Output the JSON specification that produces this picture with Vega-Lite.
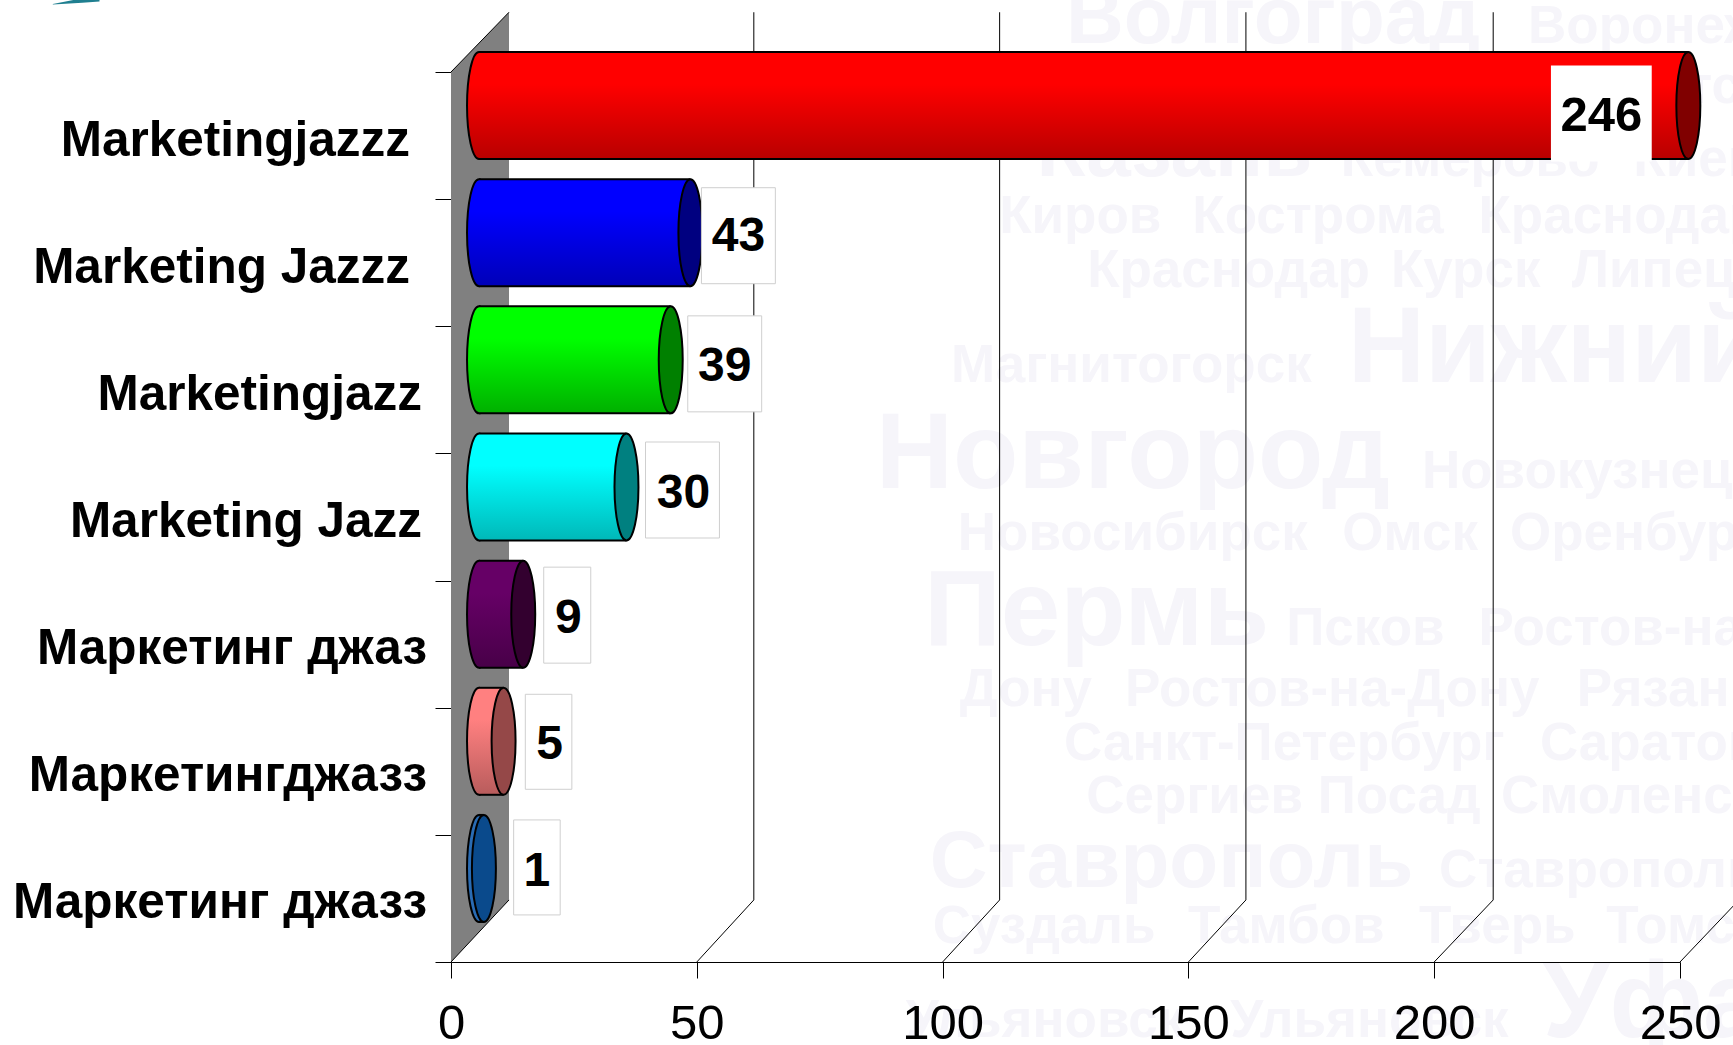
{"$schema":"https://vega.github.io/schema/vega-lite/v6.json","autosize":{"type":"none"},"width":1229,"height":890,"padding":{"left":451,"top":72,"right":53,"bottom":83},"background":"white","config":{"view":{"stroke":null},"font":"Liberation Sans"},
"datasets":{
"bars":[{"name":"Marketingjazzz","value":246},{"name":"Marketing Jazzz","value":43},{"name":"Marketingjazz","value":39},{"name":"Marketing Jazz","value":30},{"name":"Маркетинг джаз","value":9},{"name":"Маркетингджазз","value":5},{"name":"Маркетинг джазз","value":1}],
"grid":[
{"tick":"0","seq":1,"x":0,"h":0},{"tick":"0","seq":2,"x":11.8,"h":0.488},
{"tick":"top","seq":1,"x":0,"h":7},{"tick":"top","seq":2,"x":11.8,"h":7.47},
{"tick":"50","seq":1,"x":50,"h":0},{"tick":"50","seq":2,"x":61.6,"h":0.488},{"tick":"50","seq":3,"x":61.6,"h":7.47},
{"tick":"100","seq":1,"x":100,"h":0},{"tick":"100","seq":2,"x":111.6,"h":0.488},{"tick":"100","seq":3,"x":111.6,"h":7.47},
{"tick":"150","seq":1,"x":150,"h":0},{"tick":"150","seq":2,"x":161.7,"h":0.488},{"tick":"150","seq":3,"x":161.7,"h":7.47},
{"tick":"200","seq":1,"x":200,"h":0},{"tick":"200","seq":2,"x":212,"h":0.488},{"tick":"200","seq":3,"x":212,"h":7.47},
{"tick":"250","seq":1,"x":250,"h":0},{"tick":"250","seq":2,"x":262,"h":0.488},{"tick":"250","seq":3,"x":262,"h":7.47}],
"wall":[{"x":0,"h0":0,"h1":7},{"x":11.8,"h0":0.488,"h1":7.47}],
"logo":[{"x":-81,"h0":7.53,"h1":7.535},{"x":-75,"h0":7.545,"h1":7.58},{"x":-71.5,"h0":7.555,"h1":7.6}],
"cities":[
{"city":"Волгоград","x":125.1,"h":7.228,"tier":"big"},{"city":"Воронеж","x":219.1,"h":7.228,"tier":"mid"},{"city":"Иркутск","x":225.4,"h":6.76,"tier":"mid"},
{"city":"Казань","x":119.1,"h":6.18,"tier":"big"},{"city":"Кемерово","x":181,"h":6.18,"tier":"mid"},{"city":"Киев","x":240.5,"h":6.18,"tier":"mid"},
{"city":"Киров","x":111.5,"h":5.734,"tier":"mid"},{"city":"Кострома","x":150.8,"h":5.734,"tier":"mid"},{"city":"Краснодар","x":209,"h":5.734,"tier":"mid"},
{"city":"Краснодар","x":129.4,"h":5.31,"tier":"mid"},{"city":"Курск","x":191.2,"h":5.31,"tier":"mid"},{"city":"Липецк","x":228,"h":5.31,"tier":"mid"},
{"city":"Магнитогорск","x":101.7,"h":4.56,"tier":"mid"},{"city":"Нижний","x":182.4,"h":4.56,"tier":"huge"},
{"city":"Новгород","x":86.4,"h":3.73,"tier":"huge"},{"city":"Новокузнецк","x":197.5,"h":3.73,"tier":"mid"},
{"city":"Новосибирск","x":103.1,"h":3.24,"tier":"mid"},{"city":"Омск","x":181.3,"h":3.24,"tier":"mid"},{"city":"Оренбург","x":215.4,"h":3.24,"tier":"mid"},
{"city":"Пермь","x":96.2,"h":2.49,"tier":"huge"},{"city":"Псков","x":169.9,"h":2.49,"tier":"mid"},{"city":"Ростов-на-","x":209,"h":2.49,"tier":"mid"},
{"city":"Дону","x":103.5,"h":2.01,"tier":"mid"},{"city":"Ростов-на-Дону","x":137.1,"h":2.01,"tier":"mid"},{"city":"Рязань","x":229,"h":2.01,"tier":"mid"},
{"city":"Санкт-Петербург","x":124.7,"h":1.59,"tier":"mid"},{"city":"Саратов","x":221.5,"h":1.59,"tier":"mid"},
{"city":"Сергиев Посад","x":129.2,"h":1.17,"tier":"mid"},{"city":"Смоленск","x":213.6,"h":1.17,"tier":"mid"},
{"city":"Ставрополь","x":97.4,"h":0.59,"tier":"big"},{"city":"Ставрополь","x":201,"h":0.59,"tier":"mid"},
{"city":"Суздаль","x":98,"h":0.15,"tier":"mid"},{"city":"Тамбов","x":149.9,"h":0.15,"tier":"mid"},{"city":"Тверь","x":196.9,"h":0.15,"tier":"mid"},{"city":"Томск","x":235,"h":0.15,"tier":"mid"},
{"city":"Ульяновск","x":92.5,"h":-0.59,"tier":"mid"},{"city":"Ульяновск","x":158.5,"h":-0.59,"tier":"mid"},{"city":"Уфа","x":222.1,"h":-0.59,"tier":"huge"}]
},
"layer":[
{"encoding":{"x":{"field":"x","type":"quantitative","title":null,"scale":{"domain":[0,250],"nice":false,"zero":true},"axis":{"values":[0,50,100,150,200,250],"zindex":1,"grid":false,"tickSize":16,"tickColor":"black","domainColor":"black","labelColor":"black","labelFontSize":49,"labelFont":"Liberation Sans","labelPadding":21,"labelFlush":false,"labelOverlap":false,"title":null}},"y":{"field":"h","type":"quantitative","title":null,"scale":{"domain":[0,7],"nice":false,"zero":false},"axis":null}},
"layer":[
{"data":{"name":"cities"},"transform":[{"filter":"datum.tier==='huge'"}],"mark":{"type":"text","align":"left","baseline":"alphabetic","font":"Liberation Sans","fontWeight":"bold","fontSize":107,"fill":"#f6f5fa"},"encoding":{"text":{"field":"city"}}},
{"data":{"name":"cities"},"transform":[{"filter":"datum.tier==='big'"}],"mark":{"type":"text","align":"left","baseline":"alphabetic","font":"Liberation Sans","fontWeight":"bold","fontSize":80,"fill":"#f6f5fa"},"encoding":{"text":{"field":"city"}}},
{"data":{"name":"cities"},"transform":[{"filter":"datum.tier==='mid'"}],"mark":{"type":"text","align":"left","baseline":"alphabetic","font":"Liberation Sans","fontWeight":"bold","fontSize":53,"fill":"#f6f5fa"},"encoding":{"text":{"field":"city"}}},
{"data":{"name":"wall"},"mark":{"type":"area","fill":"#808080"},"encoding":{"y":{"field":"h0","type":"quantitative"},"y2":{"field":"h1"}}},
{"data":{"name":"logo"},"mark":{"type":"area","fill":"#1f7f90"},"encoding":{"y":{"field":"h0","type":"quantitative"},"y2":{"field":"h1"}}},
{"data":{"name":"grid"},"mark":{"type":"line","stroke":"black","strokeWidth":1},"encoding":{"detail":{"field":"tick"},"order":{"field":"seq"}}}
]},
{"data":{"name":"bars"},"encoding":{"y":{"field":"name","type":"nominal","title":null,"sort":null,"scale":{"domain":["Marketingjazzz","Marketing Jazzz","Marketingjazz","Marketing Jazz","Маркетинг джаз","Маркетингджазз","Маркетинг джазз"],"paddingInner":0,"paddingOuter":0},"axis":{"title":null,"tickBand":"extent","tickSize":16,"tickColor":"black","domainColor":"black","labels":false,"grid":false}},"x":{"field":"value","type":"quantitative","title":null,"stack":null}},
"layer":[
{"transform":[{"filter":"datum.name==='Marketingjazzz'||datum.name==='Marketing Jazzz'"}],"mark":{"type":"text","align":"right","baseline":"middle","font":"Liberation Sans","fontWeight":"bold","fontSize":49.5,"fill":"black","xOffset":-41,"yOffset":5},"encoding":{"x":{"datum":0,"type":"quantitative"},"text":{"field":"name"}}},
{"transform":[{"filter":"datum.name==='Marketingjazz'||datum.name==='Marketing Jazz'"}],"mark":{"type":"text","align":"right","baseline":"middle","font":"Liberation Sans","fontWeight":"bold","fontSize":49.5,"fill":"black","xOffset":-29,"yOffset":5},"encoding":{"x":{"datum":0,"type":"quantitative"},"text":{"field":"name"}}},
{"transform":[{"filter":"datum.name==='Маркетинг джаз'||datum.name==='Маркетингджазз'||datum.name==='Маркетинг джазз'"}],"mark":{"type":"text","align":"right","baseline":"middle","font":"Liberation Sans","fontWeight":"bold","fontSize":49.5,"fill":"black","xOffset":-24,"yOffset":5},"encoding":{"x":{"datum":0,"type":"quantitative"},"text":{"field":"name"}}},
{"transform":[{"filter":"datum.name==='Marketingjazzz'"}],"layer":[
{"mark":{"type":"point","shape":"M0,-1 A0.224,1 0 1,1 0,1 A0.224,1 0 1,1 0,-1 Z","size":11449,"opacity":1,"filled":true,"stroke":"black","strokeWidth":2,"xOffset":28,"yOffset":-30,"fill":{"gradient":"linear","x1":0,"y1":0,"x2":0,"y2":1,"stops":[{"offset":0,"color":"#ff0000"},{"offset":0.3,"color":"#ff0000"},{"offset":1,"color":"#b80000"}]}},"encoding":{"x":{"datum":0,"type":"quantitative"}}},
{"mark":{"type":"bar","height":107,"xOffset":28,"x2Offset":28,"yOffset":-30,"fill":{"gradient":"linear","x1":0,"y1":0,"x2":0,"y2":1,"stops":[{"offset":0,"color":"#ff0000"},{"offset":0.3,"color":"#ff0000"},{"offset":1,"color":"#b80000"}]}},"encoding":{"x2":{"datum":0}}}]},
{"transform":[{"filter":"datum.name==='Marketing Jazzz'"}],"layer":[
{"mark":{"type":"point","shape":"M0,-1 A0.224,1 0 1,1 0,1 A0.224,1 0 1,1 0,-1 Z","size":11449,"opacity":1,"filled":true,"stroke":"black","strokeWidth":2,"xOffset":28,"yOffset":-30,"fill":{"gradient":"linear","x1":0,"y1":0,"x2":0,"y2":1,"stops":[{"offset":0,"color":"#0000ff"},{"offset":0.3,"color":"#0000ff"},{"offset":1,"color":"#0000b8"}]}},"encoding":{"x":{"datum":0,"type":"quantitative"}}},
{"mark":{"type":"bar","height":107,"xOffset":28,"x2Offset":28,"yOffset":-30,"fill":{"gradient":"linear","x1":0,"y1":0,"x2":0,"y2":1,"stops":[{"offset":0,"color":"#0000ff"},{"offset":0.3,"color":"#0000ff"},{"offset":1,"color":"#0000b8"}]}},"encoding":{"x2":{"datum":0}}}]},
{"transform":[{"filter":"datum.name==='Marketingjazz'"}],"layer":[
{"mark":{"type":"point","shape":"M0,-1 A0.224,1 0 1,1 0,1 A0.224,1 0 1,1 0,-1 Z","size":11449,"opacity":1,"filled":true,"stroke":"black","strokeWidth":2,"xOffset":28,"yOffset":-30,"fill":{"gradient":"linear","x1":0,"y1":0,"x2":0,"y2":1,"stops":[{"offset":0,"color":"#00ff00"},{"offset":0.3,"color":"#00ff00"},{"offset":1,"color":"#00b000"}]}},"encoding":{"x":{"datum":0,"type":"quantitative"}}},
{"mark":{"type":"bar","height":107,"xOffset":28,"x2Offset":28,"yOffset":-30,"fill":{"gradient":"linear","x1":0,"y1":0,"x2":0,"y2":1,"stops":[{"offset":0,"color":"#00ff00"},{"offset":0.3,"color":"#00ff00"},{"offset":1,"color":"#00b000"}]}},"encoding":{"x2":{"datum":0}}}]},
{"transform":[{"filter":"datum.name==='Marketing Jazz'"}],"layer":[
{"mark":{"type":"point","shape":"M0,-1 A0.224,1 0 1,1 0,1 A0.224,1 0 1,1 0,-1 Z","size":11449,"opacity":1,"filled":true,"stroke":"black","strokeWidth":2,"xOffset":28,"yOffset":-30,"fill":{"gradient":"linear","x1":0,"y1":0,"x2":0,"y2":1,"stops":[{"offset":0,"color":"#00ffff"},{"offset":0.3,"color":"#00ffff"},{"offset":1,"color":"#00b8b8"}]}},"encoding":{"x":{"datum":0,"type":"quantitative"}}},
{"mark":{"type":"bar","height":107,"xOffset":28,"x2Offset":28,"yOffset":-30,"fill":{"gradient":"linear","x1":0,"y1":0,"x2":0,"y2":1,"stops":[{"offset":0,"color":"#00ffff"},{"offset":0.3,"color":"#00ffff"},{"offset":1,"color":"#00b8b8"}]}},"encoding":{"x2":{"datum":0}}}]},
{"transform":[{"filter":"datum.name==='Маркетинг джаз'"}],"layer":[
{"mark":{"type":"point","shape":"M0,-1 A0.224,1 0 1,1 0,1 A0.224,1 0 1,1 0,-1 Z","size":11449,"opacity":1,"filled":true,"stroke":"black","strokeWidth":2,"xOffset":28,"yOffset":-30,"fill":{"gradient":"linear","x1":0,"y1":0,"x2":0,"y2":1,"stops":[{"offset":0,"color":"#660066"},{"offset":0.3,"color":"#660066"},{"offset":1,"color":"#480048"}]}},"encoding":{"x":{"datum":0,"type":"quantitative"}}},
{"mark":{"type":"bar","height":107,"xOffset":28,"x2Offset":28,"yOffset":-30,"fill":{"gradient":"linear","x1":0,"y1":0,"x2":0,"y2":1,"stops":[{"offset":0,"color":"#660066"},{"offset":0.3,"color":"#660066"},{"offset":1,"color":"#480048"}]}},"encoding":{"x2":{"datum":0}}}]},
{"transform":[{"filter":"datum.name==='Маркетингджазз'"}],"layer":[
{"mark":{"type":"point","shape":"M0,-1 A0.224,1 0 1,1 0,1 A0.224,1 0 1,1 0,-1 Z","size":11449,"opacity":1,"filled":true,"stroke":"black","strokeWidth":2,"xOffset":28,"yOffset":-30,"fill":{"gradient":"linear","x1":0,"y1":0,"x2":0,"y2":1,"stops":[{"offset":0,"color":"#ff8080"},{"offset":0.3,"color":"#ff8080"},{"offset":1,"color":"#b85c5c"}]}},"encoding":{"x":{"datum":0,"type":"quantitative"}}},
{"mark":{"type":"bar","height":107,"xOffset":28,"x2Offset":28,"yOffset":-30,"fill":{"gradient":"linear","x1":0,"y1":0,"x2":0,"y2":1,"stops":[{"offset":0,"color":"#ff8080"},{"offset":0.3,"color":"#ff8080"},{"offset":1,"color":"#b85c5c"}]}},"encoding":{"x2":{"datum":0}}}]},
{"transform":[{"filter":"datum.name==='Маркетинг джазз'"}],"layer":[
{"mark":{"type":"point","shape":"M0,-1 A0.224,1 0 1,1 0,1 A0.224,1 0 1,1 0,-1 Z","size":11449,"opacity":1,"filled":true,"stroke":"black","strokeWidth":2,"xOffset":28,"yOffset":-30,"fill":"#2a6cb4"},"encoding":{"x":{"datum":0,"type":"quantitative"}}},
{"mark":{"type":"bar","height":107,"xOffset":28,"x2Offset":28,"yOffset":-30,"fill":"#0a4a8c"},"encoding":{"x2":{"datum":0}}}]},
{"mark":{"type":"rule","stroke":"black","strokeWidth":2,"xOffset":28,"x2Offset":28,"yOffset":-83.5},"encoding":{"x2":{"datum":0}}},
{"mark":{"type":"rule","stroke":"black","strokeWidth":2,"xOffset":28,"x2Offset":28,"yOffset":23.5},"encoding":{"x2":{"datum":0}}},
{"mark":{"type":"point","shape":"M0,-1 A0.224,1 0 1,1 0,1 A0.224,1 0 1,1 0,-1 Z","size":11449,"opacity":1,"filled":true,"stroke":"black","strokeWidth":2,"xOffset":28,"yOffset":-30},"encoding":{"fill":{"field":"name","type":"nominal","legend":null,"scale":{"domain":["Marketingjazzz","Marketing Jazzz","Marketingjazz","Marketing Jazz","Маркетинг джаз","Маркетингджазз","Маркетинг джазз"],"range":["#800000","#000080","#008000","#008080","#33002f","#954848","#0a4a8c"]}}}},
{"transform":[{"filter":"datum.name==='Marketingjazzz'"}],"layer":[
{"mark":{"type":"point","shape":"M-1.05,-1H1.05V1H-1.05Z","size":9216,"opacity":1,"filled":true,"fill":"white","xOffset":-59,"yOffset":-22}},
{"mark":{"type":"text","font":"Liberation Sans","fontWeight":"bold","fontSize":49,"fill":"black","xOffset":-59,"yOffset":-20},"encoding":{"text":{"field":"value"}}}]},
{"transform":[{"filter":"datum.name==='Marketing Jazzz'"}],"layer":[
{"mark":{"type":"point","shape":"M-0.77,-1H0.77V1H-0.77Z","size":9216,"opacity":1,"filled":true,"fill":"white","stroke":"#cfcfcf","strokeWidth":1,"xOffset":76,"yOffset":-27}},
{"mark":{"type":"text","font":"Liberation Sans","fontWeight":"bold","fontSize":48,"fill":"black","xOffset":76,"yOffset":-25.5},"encoding":{"text":{"field":"value"}}}]},
{"transform":[{"filter":"datum.name==='Marketingjazz'"}],"layer":[
{"mark":{"type":"point","shape":"M-0.77,-1H0.77V1H-0.77Z","size":9216,"opacity":1,"filled":true,"fill":"white","stroke":"#cfcfcf","strokeWidth":1,"xOffset":82,"yOffset":-26}},
{"mark":{"type":"text","font":"Liberation Sans","fontWeight":"bold","fontSize":48,"fill":"black","xOffset":82,"yOffset":-23},"encoding":{"text":{"field":"value"}}}]},
{"transform":[{"filter":"datum.name==='Marketing Jazz'"}],"layer":[
{"mark":{"type":"point","shape":"M-0.77,-1H0.77V1H-0.77Z","size":9216,"opacity":1,"filled":true,"fill":"white","stroke":"#cfcfcf","strokeWidth":1,"xOffset":84,"yOffset":-27}},
{"mark":{"type":"text","font":"Liberation Sans","fontWeight":"bold","fontSize":48,"fill":"black","xOffset":85,"yOffset":-23},"encoding":{"text":{"field":"value"}}}]},
{"transform":[{"filter":"datum.name==='Маркетинг джаз'"}],"layer":[
{"mark":{"type":"point","shape":"M-0.49,-1H0.49V1H-0.49Z","size":9216,"opacity":1,"filled":true,"fill":"white","stroke":"#cfcfcf","strokeWidth":1,"xOffset":72,"yOffset":-29}},
{"mark":{"type":"text","font":"Liberation Sans","fontWeight":"bold","fontSize":48,"fill":"black","xOffset":73,"yOffset":-25},"encoding":{"text":{"field":"value"}}}]},
{"transform":[{"filter":"datum.name==='Маркетингджазз'"}],"layer":[
{"mark":{"type":"point","shape":"M-0.49,-1H0.49V1H-0.49Z","size":9025,"opacity":1,"filled":true,"fill":"white","stroke":"#cfcfcf","strokeWidth":1,"xOffset":73,"yOffset":-29.5}},
{"mark":{"type":"text","font":"Liberation Sans","fontWeight":"bold","fontSize":48,"fill":"black","xOffset":74,"yOffset":-26.5},"encoding":{"text":{"field":"value"}}}]},
{"transform":[{"filter":"datum.name==='Маркетинг джазз'"}],"layer":[
{"mark":{"type":"point","shape":"M-0.49,-1H0.49V1H-0.49Z","size":9025,"opacity":1,"filled":true,"fill":"white","stroke":"#cfcfcf","strokeWidth":1,"xOffset":81,"yOffset":-31}},
{"mark":{"type":"text","font":"Liberation Sans","fontWeight":"bold","fontSize":48,"fill":"black","xOffset":81,"yOffset":-26.5},"encoding":{"text":{"field":"value"}}}]}
]}
],
"resolve":{"scale":{"y":"independent","fill":"independent"},"axis":{"y":"independent"}}}
